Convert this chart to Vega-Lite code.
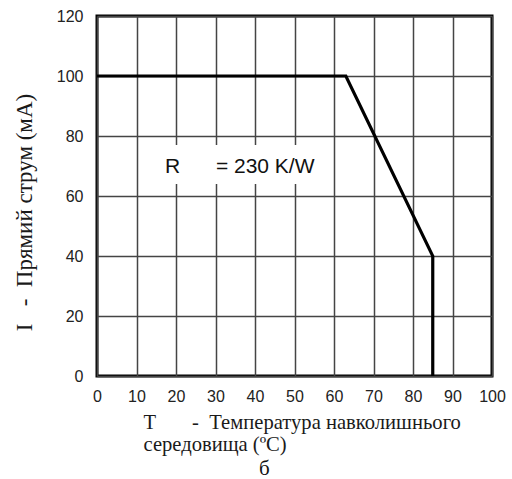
{
  "$schema": "https://vega.github.io/schema/vega-lite/v6.json",
  "width": 395,
  "height": 360,
  "autosize": {"type": "none"},
  "padding": {"left": 97, "top": 16, "right": 20, "bottom": 103},
  "background": "white",
  "config": {
    "view": {"stroke": "black", "strokeWidth": 3},
    "axis": {
      "grid": true,
      "gridColor": "#444",
      "gridWidth": 1.5,
      "ticks": false,
      "domain": false,
      "labelFont": "Liberation Sans",
      "labelFontSize": 16,
      "labelColor": "#222",
      "labelOverlap": false,
      "labelFlush": false,
      "titleFont": "Liberation Serif",
      "titleFontWeight": "normal",
      "titleColor": "#1a1a1a"
    }
  },
  "title": {
    "text": "б",
    "orient": "bottom",
    "anchor": "start",
    "frame": "group",
    "dx": 162,
    "offset": 3,
    "font": "Liberation Serif",
    "fontSize": 21,
    "fontWeight": "normal",
    "color": "#111"
  },
  "encoding": {
    "x": {
      "field": "x",
      "type": "quantitative",
      "scale": {"domain": [0, 100], "nice": false},
      "axis": {
        "values": [0, 10, 20, 30, 40, 50, 60, 70, 80, 90, 100],
        "labelPadding": 12,
        "title": ["T\u00a0\u00a0\u00a0\u00a0\u00a0\u00a0\u00a0-\u00a0\u00a0Температура навколишнього", "\u00a0\u00a0\u00a0\u00a0\u00a0\u00a0\u00a0\u00a0\u00a0\u00a0\u00a0\u00a0\u00a0середовища (ºC)"],
        "titleFontSize": 20.6,
        "titleAlign": "left",
        "titleAnchor": "start",
        "titleBaseline": "alphabetic",
        "titleX": 46,
        "titleY": 52,
        "titleLineHeight": 22
      }
    },
    "y": {
      "field": "y",
      "type": "quantitative",
      "scale": {"domain": [0, 120], "nice": false},
      "axis": {
        "values": [0, 20, 40, 60, 80, 100, 120],
        "labelPadding": 14,
        "title": "I\u00a0\u00a0\u00a0-\u00a0\u00a0Прямий струм (мА)",
        "titleFontSize": 23,
        "titleAngle": -90,
        "titleAlign": "center",
        "titleBaseline": "middle",
        "titleX": -73,
        "titleY": 196
      }
    }
  },
  "layer": [
    {
      "data": {"values": [{"x": 16, "xe": 56, "y": 64, "ye": 77}]},
      "mark": {"type": "rect", "fill": "white"},
      "encoding": {
        "x2": {"field": "xe"},
        "y2": {"field": "ye"}
      }
    },
    {
      "data": {"values": [
        {"x": 17.2, "y": 69.8, "label": "R"},
        {"x": 30.1, "y": 69.8, "label": "= 230 K/W"}
      ]},
      "mark": {"type": "text", "align": "left", "baseline": "middle", "font": "Liberation Sans", "fontSize": 21, "color": "#111"},
      "encoding": {
        "text": {"field": "label"}
      }
    },
    {
      "data": {"values": [
        {"x": 0, "y": 100, "o": 1},
        {"x": 63, "y": 100, "o": 2},
        {"x": 85, "y": 40, "o": 3},
        {"x": 85, "y": 0, "o": 4}
      ]},
      "mark": {"type": "line", "color": "black", "strokeWidth": 3.2},
      "encoding": {
        "order": {"field": "o", "type": "quantitative"}
      }
    }
  ]
}
